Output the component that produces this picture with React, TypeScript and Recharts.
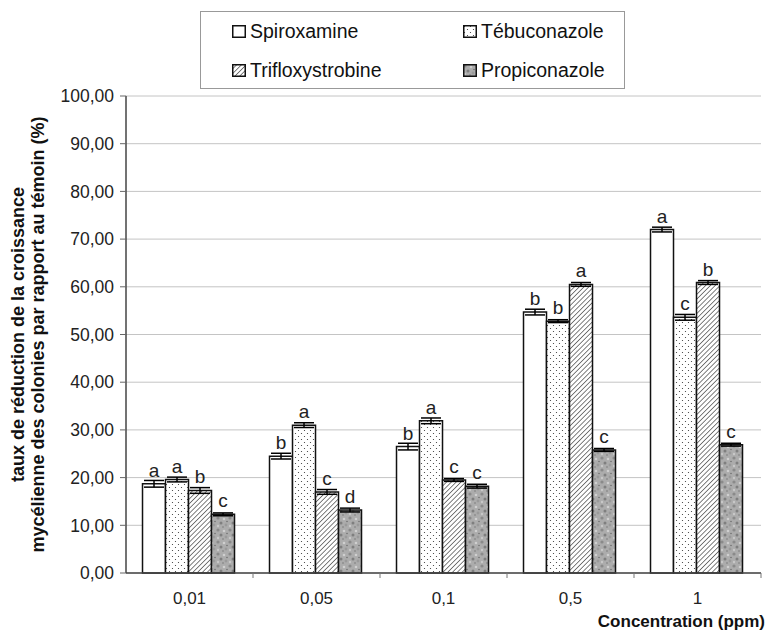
import React from "react";
import {
  BarChart,
  Bar,
  XAxis,
  YAxis,
  CartesianGrid,
  ErrorBar,
  LabelList,
} from "recharts";

// concentrations (ppm)
const categories = ["0,01", "0,05", "0,1", "0,5", "1"];

const spiroxamine = [18.7, 24.5, 26.5, 54.7, 72.0];
const spiroxamineErr = [0.7, 0.6, 0.7, 0.6, 0.5];
const spiroxamineLetters = ["a", "b", "b", "b", "a"];

const tebuconazole = [19.6, 31.0, 31.9, 52.8, 53.6];
const tebuconazoleErr = [0.5, 0.5, 0.6, 0.3, 0.6];
const tebuconazoleLetters = ["a", "a", "a", "b", "c"];

const trifloxystrobine = [17.3, 17.0, 19.5, 60.5, 60.9];
const trifloxystrobineErr = [0.6, 0.5, 0.3, 0.4, 0.4];
const trifloxystrobineLetters = ["b", "c", "c", "a", "b"];

const propiconazole = [12.3, 13.2, 18.2, 25.8, 26.9];
const propiconazoleErr = [0.3, 0.4, 0.4, 0.3, 0.3];
const propiconazoleLetters = ["c", "d", "c", "c", "c"];

const yTicks = [0, 10, 20, 30, 40, 50, 60, 70, 80, 90, 100];

const data = categories.map((c, i) => ({
  conc: c,
  spiro: spiroxamine[i],
  spiroErr: spiroxamineErr[i],
  spiroL: spiroxamineLetters[i],
  tebu: tebuconazole[i],
  tebuErr: tebuconazoleErr[i],
  tebuL: tebuconazoleLetters[i],
  triflo: trifloxystrobine[i],
  trifloErr: trifloxystrobineErr[i],
  trifloL: trifloxystrobineLetters[i],
  propi: propiconazole[i],
  propiErr: propiconazoleErr[i],
  propiL: propiconazoleLetters[i],
}));

const FONT = '"Liberation Sans", Arial, sans-serif';
const W = 768;
const H = 632;
const MARGIN = { top: 96, right: 7, bottom: 0, left: 0 };
const Y_AXIS_W = 126;
const X_AXIS_H = 59;
const BAND = (W - MARGIN.right - Y_AXIS_W) / categories.length;

const SERIES = [
  { key: "spiro", name: "Spiroxamine", fill: "#ffffff" },
  { key: "tebu", name: "Tébuconazole", fill: "url(#patDots)" },
  { key: "triflo", name: "Trifloxystrobine", fill: "url(#patHatch)" },
  { key: "propi", name: "Propiconazole", fill: "url(#patSpeckle)" },
];

const fmt = (v: number) => v.toFixed(2).replace(".", ",");

function Patterns() {
  return (
    <defs>
      <pattern id="patDots" width="6" height="6" patternUnits="userSpaceOnUse">
        <rect width="6" height="6" fill="#ffffff" />
        <circle cx="1.5" cy="1.5" r="0.6" fill="#333" />
        <circle cx="4.5" cy="4.5" r="0.6" fill="#333" />
      </pattern>
      <pattern
        id="patHatch"
        width="3.4"
        height="3.4"
        patternUnits="userSpaceOnUse"
        patternTransform="rotate(45)"
      >
        <rect width="3.4" height="3.4" fill="#ffffff" />
        <line x1="0" y1="0" x2="0" y2="3.4" stroke="#3a3a3a" strokeWidth="1.3" />
      </pattern>
      <pattern id="patSpeckle" width="12" height="12" patternUnits="userSpaceOnUse">
        <rect width="12" height="12" fill="#acacac" />
        <circle cx="2" cy="2" r="1.6" fill="#8a8a8a" />
        <circle cx="8" cy="3" r="1.3" fill="#cfcfcf" />
        <circle cx="5" cy="7" r="1.5" fill="#7f7f7f" />
        <circle cx="10" cy="9" r="1.4" fill="#9a9a9a" />
        <circle cx="2" cy="10" r="1.2" fill="#c8c8c8" />
        <circle cx="7" cy="11" r="0.9" fill="#8c8c8c" />
        <circle cx="11" cy="5.5" r="0.8" fill="#6f6f6f" />
      </pattern>
    </defs>
  );
}

function XTick(props: any) {
  const { x, y, payload } = props;
  return (
    <g>
      <line x1={x + BAND / 2} y1={y} x2={x + BAND / 2} y2={y + 5} stroke="#777" strokeWidth={1} />
      <text x={x} y={y + 31} textAnchor="middle" fontFamily={FONT} fontSize={17} fill="#222">
        {payload.value}
      </text>
    </g>
  );
}

function YLabel(props: any) {
  const vb = props.viewBox || { x: 0, y: 0, width: 0, height: 0 };
  const cy = vb.y + vb.height / 2;
  const x1 = 24;
  const x2 = 44;
  return (
    <g fontFamily={FONT} fontSize={18} fontWeight="bold" fill="#111">
      <text x={x1} y={cy} textAnchor="middle" transform={`rotate(-90, ${x1}, ${cy})`}>
        taux de réduction de la croissance
      </text>
      <text x={x2} y={cy} textAnchor="middle" transform={`rotate(-90, ${x2}, ${cy})`}>
        mycélienne des colonies par rapport au témoin (%)
      </text>
    </g>
  );
}

function XLabel() {
  return (
    <text x={765} y={627} textAnchor="end" fontFamily={FONT} fontSize={17} fontWeight="bold" fill="#111">
      Concentration (ppm)
    </text>
  );
}

const letterContent = (props: any) => {
  const { x, y, width, value } = props;
  return (
    <text
      x={x + width / 2}
      y={y - 7}
      textAnchor="middle"
      fontFamily={FONT}
      fontSize={19}
      fill="#222"
    >
      {value}
    </text>
  );
};

function LegendBox() {
  const item = (s: (typeof SERIES)[number], left: number, top: number) => (
    <div
      key={s.key}
      style={{ position: "absolute", left, top, display: "flex", alignItems: "center" }}
    >
      <svg width={14} height={13} style={{ marginRight: 4 }}>
        <rect x={0.75} y={0.75} width={12.5} height={11.5} fill={s.fill} stroke="#111" strokeWidth={1.5} />
      </svg>
      <span style={{ fontFamily: FONT, fontSize: 19.5, color: "#111" }}>{s.name}</span>
    </div>
  );
  return (
    <div
      style={{
        position: "absolute",
        left: 200,
        top: 11,
        width: 425,
        height: 78,
        border: "1px solid #999",
        boxSizing: "border-box",
        background: "#fff",
      }}
    >
      {item(SERIES[0], 31, 8)}
      {item(SERIES[1], 262, 8)}
      {item(SERIES[2], 31, 47)}
      {item(SERIES[3], 262, 47)}
    </div>
  );
}

export default function App() {
  return (
    <div style={{ position: "absolute", left: 0, top: 0, width: W, height: H, background: "#fff" }}>
      <BarChart
        width={W}
        height={H}
        data={data}
        margin={MARGIN}
        barCategoryGap="13%"
        barGap={0}
      >
        <Patterns />
        <CartesianGrid vertical={false} stroke="#c4c4c4" strokeWidth={1} />
        <XAxis
          dataKey="conc"
          height={X_AXIS_H}
          axisLine={{ stroke: "#444", strokeWidth: 1.5 }}
          tickLine={false}
          tickSize={0}
          tickMargin={0}
          tick={<XTick />}
          interval={0}
          label={<XLabel />}
        />
        <YAxis
          width={Y_AXIS_W}
          domain={[0, 100]}
          ticks={yTicks}
          tickFormatter={fmt}
          axisLine={{ stroke: "#444", strokeWidth: 1.5 }}
          tickLine={{ stroke: "#666" }}
          tickSize={6}
          tickMargin={6}
          tick={{ fontFamily: FONT, fontSize: 17.5, fill: "#222" }}
          label={<YLabel />}
        />
        {SERIES.map((s) => (
          <Bar
            key={s.key}
            dataKey={s.key}
            name={s.name}
            fill={s.fill}
            stroke="#111"
            strokeWidth={1.5}
            isAnimationActive={false}
          >
            <ErrorBar
              dataKey={`${s.key}Err`}
              width={10}
              stroke="#000"
              strokeWidth={1.5}
              isAnimationActive={false}
            />
            <LabelList dataKey={`${s.key}L`} content={letterContent} />
          </Bar>
        ))}
      </BarChart>
      <LegendBox />
    </div>
  );
}
